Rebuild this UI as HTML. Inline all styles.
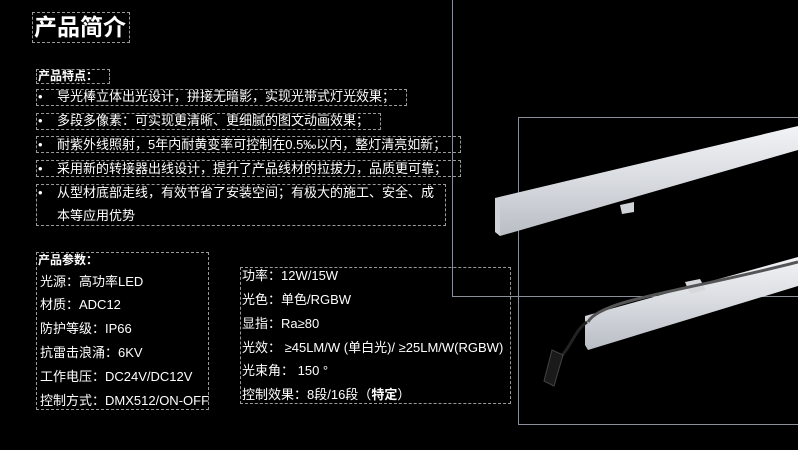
<!DOCTYPE html>
<html><head><meta charset="utf-8"><style>
body{margin:0;width:798px;height:450px;background:#000;overflow:hidden;position:relative;font-family:"Liberation Sans","Noto Sans CJK SC",sans-serif;color:#fff}
.b{position:absolute;border:1px dashed #9a9a9a;box-sizing:border-box}
.t{position:absolute;white-space:nowrap;font-size:13px;line-height:16px}
.g{position:absolute;border:1px solid #8a8f99;box-sizing:border-box}
</style></head><body>
<div class="g" style="left:452px;top:-2px;width:360px;height:299px"></div>
<div class="g" style="left:518px;top:117px;width:300px;height:308px"></div>
<svg style="position:absolute;left:0;top:0" width="798" height="450">
<defs><linearGradient id="a" x1="0" y1="0" x2="0" y2="1"><stop offset="0" stop-color="#f2f3f6"/><stop offset=".5" stop-color="#d8dbe0"/><stop offset="1" stop-color="#b9bdc4"/></linearGradient></defs>
<polygon points="495,198 798,126 798,150 500,236 495,230" fill="url(#a)"/>
<polygon points="495,198 500,200 500,236 495,232" fill="#cfd2d6"/>
<polygon points="620,205 634,202 634,212 622,214" fill="#d0d3d7"/>
<polygon points="585,316 798,257 798,286 588,350 585,345" fill="url(#a)"/>
<polygon points="685,282 700,279 706,290 690,294" fill="#d6d8dc"/>
<path d="M588,322 C600,300 680,292 798,262" stroke="#555" stroke-width="3" fill="none"/>
<path d="M587,322 C575,330 572,345 560,358" stroke="#222" stroke-width="3" fill="none"/>
<polygon points="552,350 563,355 554,386 544,381" fill="#1a1a1a" stroke="#444"/>
</svg>
<div class="b" style="left:32px;top:12px;width:98px;height:31px"></div>
<div class="t" style="left:34px;top:13px;font-size:23px;line-height:28px;font-weight:bold">产品简介</div>
<div class="b" style="left:36px;top:69px;width:74px;height:15px"></div>
<div class="t" style="left:38px;top:68px;font-weight:bold;font-size:12px">产品特点：</div>
<div class="b" style="left:36px;top:89px;width:371px;height:17px"></div>
<div class="b" style="left:36px;top:113px;width:345px;height:17px"></div>
<div class="b" style="left:36px;top:136px;width:425px;height:17px"></div>
<div class="b" style="left:36px;top:160px;width:425px;height:17px"></div>
<div class="b" style="left:36px;top:184px;width:410px;height:42px"></div>
<div class="t" style="left:38px;top:89px">•</div><div class="t" style="left:57px;top:89px">导光棒立体出光设计，拼接无暗影，实现光带式灯光效果；</div>
<div class="t" style="left:38px;top:113px">•</div><div class="t" style="left:57px;top:113px">多段多像素：可实现更清晰、更细腻的图文动画效果；</div>
<div class="t" style="left:38px;top:137px">•</div><div class="t" style="left:57px;top:137px">耐紫外线照射，5年内耐黄变率可控制在0.5‰以内，整灯清亮如新；</div>
<div class="t" style="left:38px;top:161px">•</div><div class="t" style="left:57px;top:161px">采用新的转接器出线设计，提升了产品线材的拉拔力，品质更可靠；</div>
<div class="t" style="left:38px;top:185px">•</div><div class="t" style="left:57px;top:185px">从型材底部走线，有效节省了安装空间；有极大的施工、安全、成</div>
<div class="t" style="left:57px;top:208px">本等应用优势</div>
<div class="b" style="left:36px;top:252px;width:173px;height:158px"></div>
<div class="t" style="left:38px;top:252px;font-weight:bold;font-size:12px">产品参数：</div>
<div class="t" style="left:40px;top:274px">光源：高功率LED</div>
<div class="t" style="left:40px;top:297px">材质：ADC12</div>
<div class="t" style="left:40px;top:321px">防护等级：IP66</div>
<div class="t" style="left:40px;top:345px">抗雷击浪涌：6KV</div>
<div class="t" style="left:40px;top:369px">工作电压：DC24V/DC12V</div>
<div class="t" style="left:40px;top:393px">控制方式：DMX512/ON-OFF</div>
<div class="b" style="left:240px;top:267px;width:271px;height:137px"></div>
<div class="t" style="left:242px;top:268px">功率：12W/15W</div>
<div class="t" style="left:242px;top:292px">光色：单色/RGBW</div>
<div class="t" style="left:242px;top:316px">显指：Ra≥80</div>
<div class="t" style="left:242px;top:340px">光效： ≥45LM/W (单白光)/ ≥25LM/W(RGBW)</div>
<div class="t" style="left:242px;top:363px">光束角： 150 °</div>
<div class="t" style="left:242px;top:387px">控制效果：8段/16段（<b>特定</b>）</div>
</body></html>
